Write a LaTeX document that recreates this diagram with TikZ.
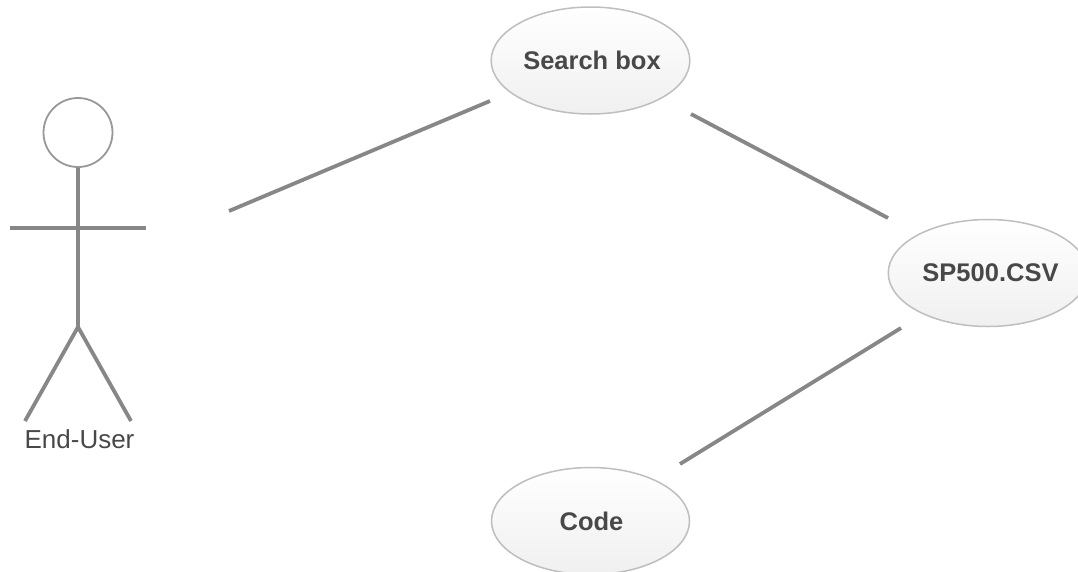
\documentclass[tikz,border=0pt]{standalone}
\usepackage{fontspec}
\setmainfont{Liberation Sans}
\definecolor{lnkgray}{HTML}{878787}
\definecolor{rimgray}{HTML}{BEBEBE}
\definecolor{txtgray}{HTML}{484848}
\tikzset{
  usecase/.style={ellipse, draw=rimgray, line width=1.5pt, top color=white, bottom color=black!6, minimum width=198pt, minimum height=107pt, inner sep=0pt, text=txtgray, font=\fontsize{25.5}{30}\selectfont\bfseries},
  lnk/.style={draw=lnkgray, line width=3.8pt}
}
\usetikzlibrary{shapes.geometric}
\begin{document}
\begin{tikzpicture}[x=1pt,y=-1pt]
\useasboundingbox (0,0) rectangle (1078,571);
\clip (0,0) rectangle (1078,571);
\node[usecase] (search) at (590.5,60.5){\hspace{3pt}Search box};
\node[usecase] (csv) at (988,273){\hspace{5pt}SP500.CSV};
\node[usecase] (code) at (590.5,521){\hspace{2pt}Code};
\node[circle, draw=rimgray!80!black, line width=1.8pt, minimum size=69pt, inner sep=0pt] (head) at (78,132.5){};
\coordinate (hip) at (78,327);
\coordinate (armL) at (10,228);
\coordinate (armR) at (146,228);
\coordinate (footL) at (25,421);
\coordinate (footR) at (131,421);
\node[text=txtgray, font=\fontsize{26}{30}\selectfont] (user) at (79.5,439){End-User};
\draw[lnk](head) -- (hip);
\draw[lnk](armL) -- (armR);
\draw[lnk](footL) -- (hip) -- (footR);
\coordinate (userEnd) at (229,211);
\coordinate (searchW) at (490,101);
\coordinate (searchE) at (691,114);
\coordinate (csvN) at (888,218);
\coordinate (csvS) at (901,328);
\coordinate (codeN) at (680,464);
\draw[lnk](userEnd) -- (searchW);
\draw[lnk](searchE) -- (csvN);
\draw[lnk](csvS) -- (codeN);
\end{tikzpicture}
\end{document}
